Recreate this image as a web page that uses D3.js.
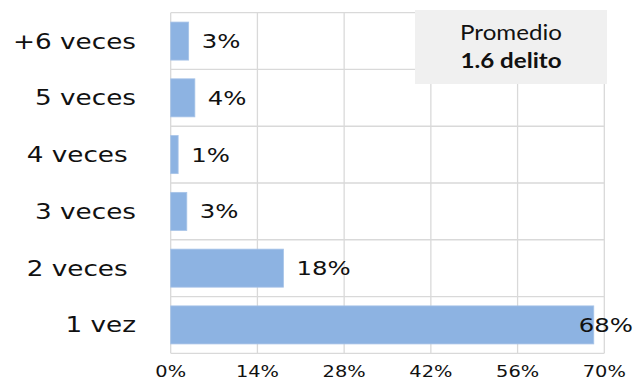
<!DOCTYPE html>
<html><head><meta charset="utf-8">
<script src="https://cdn.jsdelivr.net/npm/d3@7"></script>
<style>
body{margin:0;background:#fff;}
svg{display:block;}
text{white-space:pre;}
</style></head>
<body>
<svg id="chart" width="636" height="381"></svg>
<script>
// Data
const categories = ["+6 veces", "5 veces", "4 veces ", "3 veces", "2 veces ", "1 vez"];
const values = [2.9, 3.9, 1.2, 2.6, 18.2, 68.3];
const tickValues = [0, 14, 28, 42, 56, 70];
const tickLabels = ["0%", "14%", "28%", "42%", "56%", "70%"];
const noteLines = ["Promedio", "1.6 delito"];

const W = 636, H = 381;
const stretch = 1.25;
const plot = {left: 170.7, right: 604.3, top: 12.7, bottom: 353.3};

const svg = d3.select("#chart");

const x = d3.scaleLinear().domain([0, 70]).range([plot.left, plot.right]);
const y = d3.scaleBand().domain(categories).range([plot.top, plot.bottom])
  .paddingInner(0.33).paddingOuter(0.165);

// vertical grid lines
svg.append("g").selectAll("line").data(tickValues).join("line")
  .attr("x1", d => x(d)).attr("x2", d => x(d))
  .attr("y1", plot.top).attr("y2", plot.bottom)
  .attr("stroke", "#d9d9d9").attr("stroke-width", 1.3);

// horizontal band boundaries
const bounds = d3.range(categories.length + 1).map(i => plot.top + i * (plot.bottom - plot.top) / categories.length);
svg.append("g").selectAll("line").data(bounds).join("line")
  .attr("x1", plot.left).attr("x2", plot.right)
  .attr("y1", d => d).attr("y2", d => d)
  .attr("stroke", "#d9d9d9").attr("stroke-width", 1.3);

// bars
svg.append("g").selectAll("rect").data(values).join("rect")
  .attr("x", x(0))
  .attr("y", (d, i) => y(categories[i]))
  .attr("width", d => x(d) - x(0))
  .attr("height", y.bandwidth())
  .attr("fill", "#8db3e2")
  .attr("stroke", "#a7c4e8").attr("stroke-width", 0.8);

// category labels
svg.append("g").selectAll("text").data(categories).join("text")
  .attr("transform", d => `translate(136,${y(d) + y.bandwidth() / 2}) scale(${stretch},1)`)
  .attr("text-anchor", "end")
  .attr("dy", "0.36em")
  .attr("font-family", "DejaVu Sans")
  .attr("font-size", 21)
  .attr("fill", "#111")
  .text(d => d);

// data labels
const dl = svg.append("g").selectAll("text").data(values).join("text")
  .attr("font-family", "DejaVu Sans")
  .attr("font-size", 19.5)
  .attr("fill", "#111")
  .attr("dy", "0.36em")
  .text(d => Math.round(d) + "%");
dl.each(function(d, i) {
  const w = this.getComputedTextLength() * stretch;
  let tx = x(d) + 13;
  if (tx + w > W - 3) tx = W - 3 - w;
  d3.select(this).attr("transform", `translate(${tx},${y(categories[i]) + y.bandwidth() / 2}) scale(${stretch},1)`);
});

// x tick labels
svg.append("g").selectAll("text").data(tickValues).join("text")
  .attr("transform", d => `translate(${x(d)},377) scale(${stretch},1)`)
  .attr("text-anchor", "middle")
  .attr("font-family", "DejaVu Sans")
  .attr("font-size", 15.5)
  .attr("fill", "#111")
  .text((d, i) => tickLabels[i]);

// note box
const note = svg.append("g");
note.append("rect").attr("x", 415).attr("y", 10).attr("width", 192).attr("height", 74)
  .attr("fill", "#f0f0f0");
note.append("text")
  .attr("transform", `translate(511,40) scale(1.15,1)`)
  .attr("text-anchor", "middle")
  .attr("font-family", "Lato")
  .attr("font-size", 21)
  .attr("fill", "#111")
  .text(noteLines[0]);
note.append("text")
  .attr("transform", `translate(511,68) scale(1.15,1)`)
  .attr("text-anchor", "middle")
  .attr("font-family", "Lato")
  .attr("font-weight", "bold")
  .attr("font-size", 21)
  .attr("fill", "#111")
  .text(noteLines[1]);
</script>
</body></html>
